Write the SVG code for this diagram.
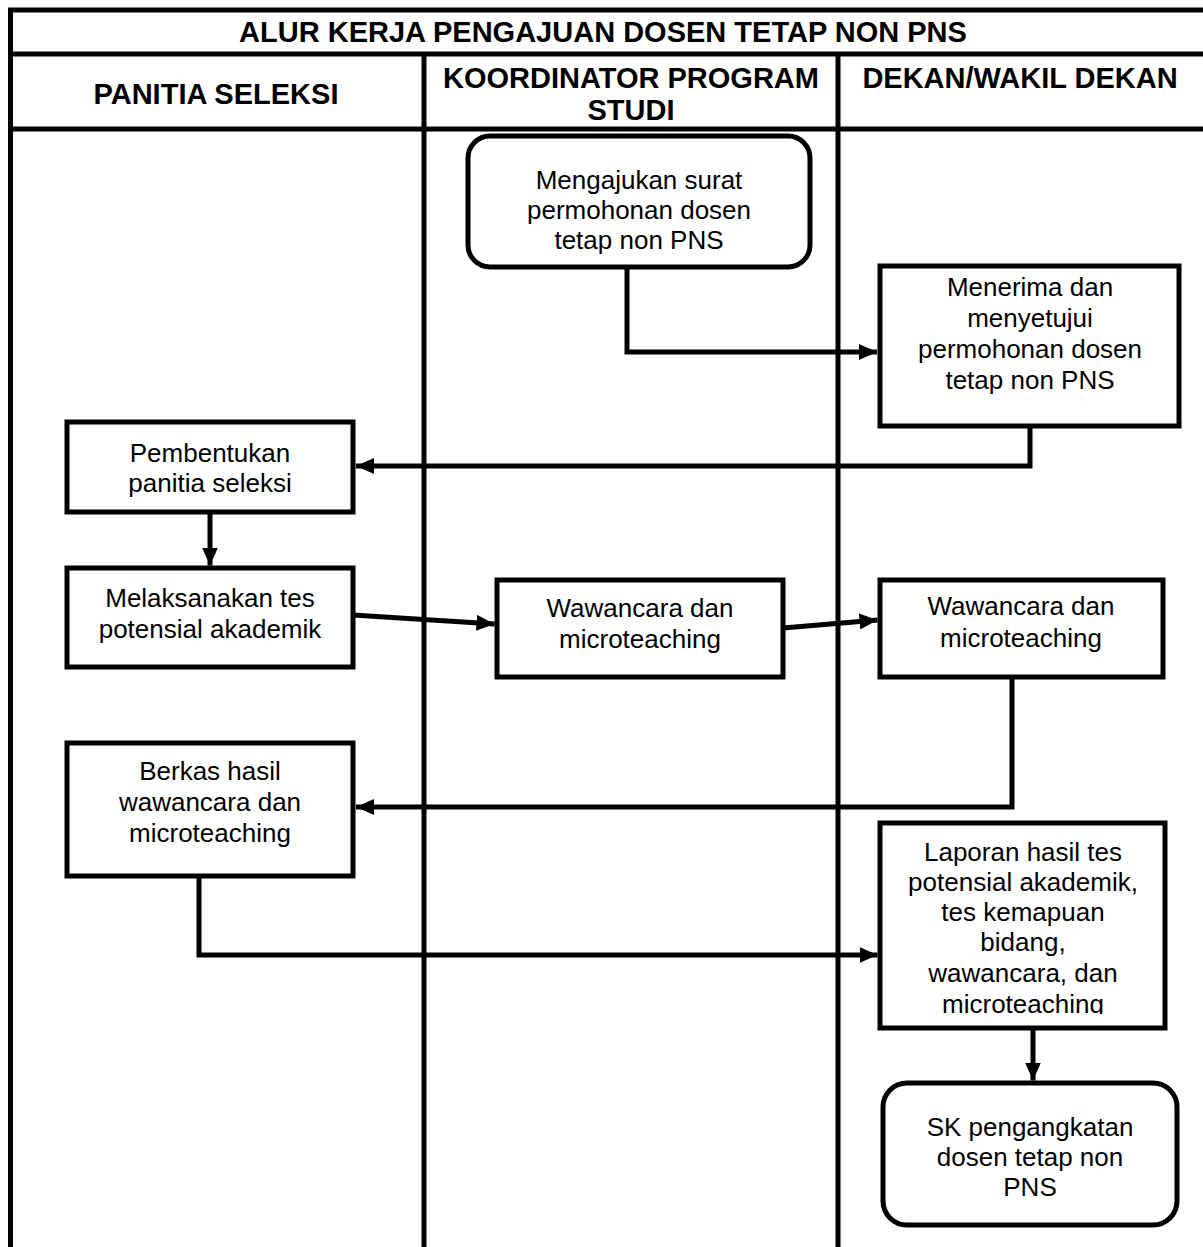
<svg xmlns="http://www.w3.org/2000/svg" width="1203" height="1247" viewBox="0 0 1203 1247">
<style>
.frame{stroke:#000;stroke-width:5;fill:none}
.box{fill:#fff;stroke:#000;stroke-width:5}
.conn{fill:none;stroke:#000;stroke-width:5;stroke-linejoin:miter}
.t{font-family:"Liberation Sans",Arial,sans-serif;font-size:26px;fill:#000;text-anchor:middle}
.h{font-family:"Liberation Sans",Arial,sans-serif;font-size:29px;font-weight:bold;fill:#000;text-anchor:middle}
</style>
<defs>
<marker id="arr" markerUnits="userSpaceOnUse" markerWidth="18" markerHeight="16" refX="18" refY="8" orient="auto">
<path d="M0,0 L18,8 L0,16 z" fill="#000"/>
</marker>
<clipPath id="clip8"><rect x="880" y="823" width="285" height="191"/></clipPath>
</defs>
<rect width="1203" height="1247" fill="#fff"/>
<g id="frame">
<path class="frame" d="M8,10 H1203 M8,54 H1203 M8,129 H1203 M10.5,8 V1247 M424,54 V1247 M838,54 V1247"/>
<text class="h" x="603" y="42">ALUR KERJA PENGAJUAN DOSEN TETAP NON PNS</text>
<text class="h" x="216" y="104">PANITIA SELEKSI</text>
<text class="h" x="631" y="88">KOORDINATOR PROGRAM</text>
<text class="h" x="631" y="120">STUDI</text>
<text class="h" x="1020" y="88">DEKAN/WAKIL DEKAN</text>
</g>
<g id="connectors">
<path class="conn" d="M627,267 V352 H877" marker-end="url(#arr)"/>
<path class="conn" d="M1030,426 V466 H356" marker-end="url(#arr)"/>
<path class="conn" d="M210,512 V565.5" marker-end="url(#arr)"/>
<path class="conn" d="M353,615 L494.5,624" marker-end="url(#arr)"/>
<path class="conn" d="M783,628 L877.5,620" marker-end="url(#arr)"/>
<path class="conn" d="M1012,677 V807 H356" marker-end="url(#arr)"/>
<path class="conn" d="M199,876 V955 H877.5" marker-end="url(#arr)"/>
<path class="conn" d="M1033,1028 V1080.5" marker-end="url(#arr)"/>
</g>
<g id="n1">
<rect class="box" x="468" y="136" width="342" height="131" rx="22"/>
<text class="t" x="639" y="189">Mengajukan surat</text>
<text class="t" x="639" y="219">permohonan dosen</text>
<text class="t" x="639" y="249">tetap non PNS</text>
</g>
<g id="n2">
<rect class="box" x="880" y="266" width="299" height="160"/>
<text class="t" x="1030" y="296">Menerima dan</text>
<text class="t" x="1030" y="327">menyetujui</text>
<text class="t" x="1030" y="358">permohonan dosen</text>
<text class="t" x="1030" y="389">tetap non PNS</text>
</g>
<g id="n3">
<rect class="box" x="67" y="422" width="286" height="90"/>
<text class="t" x="210" y="462">Pembentukan</text>
<text class="t" x="210" y="492">panitia seleksi</text>
</g>
<g id="n4">
<rect class="box" x="67" y="568" width="286" height="99"/>
<text class="t" x="210" y="607">Melaksanakan tes</text>
<text class="t" x="210" y="638">potensial akademik</text>
</g>
<g id="n5">
<rect class="box" x="497" y="580" width="286" height="97"/>
<text class="t" x="640" y="617">Wawancara dan</text>
<text class="t" x="640" y="648">microteaching</text>
</g>
<g id="n6">
<rect class="box" x="880" y="580" width="283" height="97"/>
<text class="t" x="1021" y="615">Wawancara dan</text>
<text class="t" x="1021" y="647">microteaching</text>
</g>
<g id="n7">
<rect class="box" x="67" y="743" width="286" height="133"/>
<text class="t" x="210" y="780">Berkas hasil</text>
<text class="t" x="210" y="811">wawancara dan</text>
<text class="t" x="210" y="842">microteaching</text>
</g>
<g id="n8">
<rect class="box" x="880" y="823" width="285" height="205"/>
<g clip-path="url(#clip8)">
<text class="t" x="1023" y="861">Laporan hasil tes</text>
<text class="t" x="1023" y="891">potensial akademik,</text>
<text class="t" x="1023" y="921">tes kemapuan</text>
<text class="t" x="1023" y="951">bidang,</text>
<text class="t" x="1023" y="982">wawancara, dan</text>
<text class="t" x="1023" y="1013">microteaching</text>
</g>
</g>
<g id="n9">
<rect class="box" x="883" y="1083" width="294" height="142" rx="24"/>
<text class="t" x="1030" y="1136">SK pengangkatan</text>
<text class="t" x="1030" y="1166">dosen tetap non</text>
<text class="t" x="1030" y="1196">PNS</text>
</g>
</svg>
